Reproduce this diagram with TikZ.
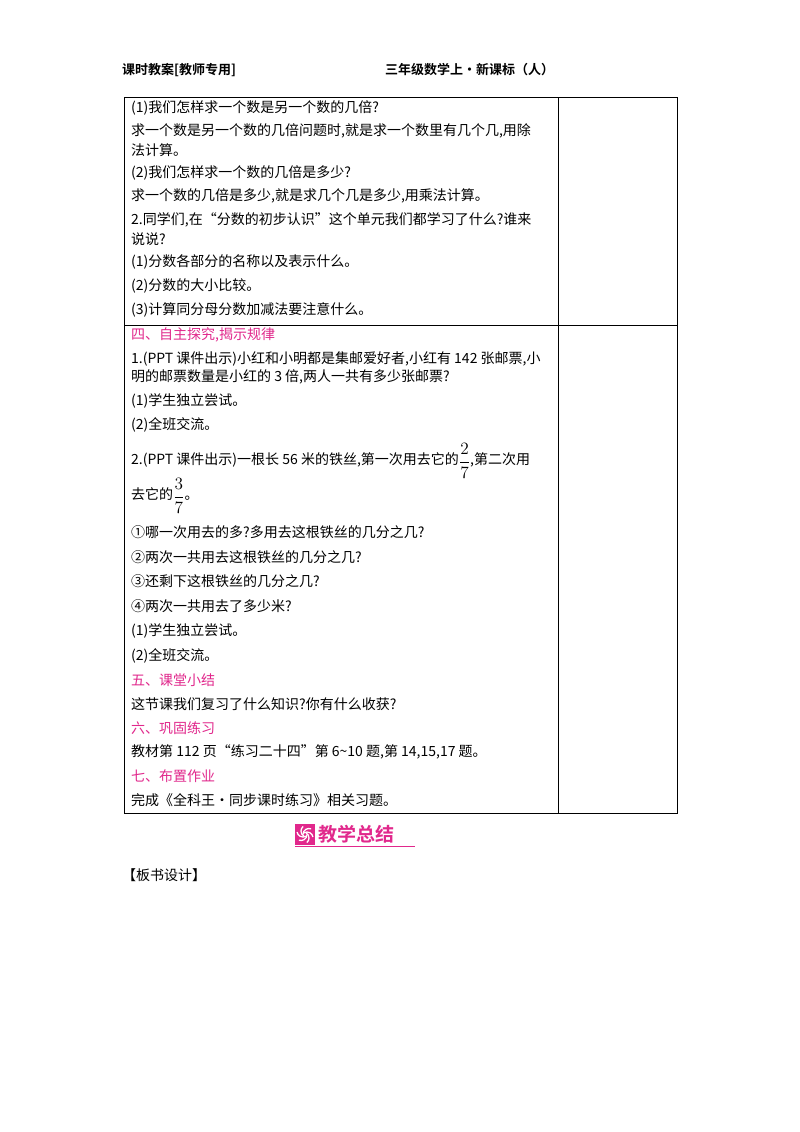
\documentclass[tikz,border=0pt]{standalone}
\usepackage{fontspec}
\usepackage{graphicx}
\setmainfont{Noto Sans CJK SC}
\newfontfamily\cjkb{Noto Sans CJK SC Bold}
\definecolor{pk}{RGB}{225,40,140}
\newcommand{\myfr}[2]{\raisebox{-0.3ex}{\scalebox{1.2}{$\displaystyle\frac{#1}{#2}$}}}
\begin{document}
\begin{tikzpicture}[x=1pt,y=-1pt,
  tx/.style={anchor=west,inner sep=0pt,font=\fontsize{14}{16}\selectfont},
  pt/.style={tx,text=pk}]
\useasboundingbox (0,0) rectangle (800,1132);
\fill[white] (0,0) rectangle (800,1132);
\node[tx,font=\cjkb\fontsize{13}{15}\selectfont] (h1) at (122,70) {课时教案[教师专用]};
\node[tx,font=\cjkb\fontsize{13}{15}\selectfont] (h2) at (385,70) {三年级数学上·新课标（人）};
\draw[line width=0.8pt] (124,97) rectangle (677,813);
\draw[line width=0.6pt] (558,97) -- (558,813) (124,325) -- (677,325);
\node[tx] (l1) at (131,108) {(1)我们怎样求一个数是另一个数的几倍?};
\node[tx] (l2) at (131,131) {求一个数是另一个数的几倍问题时,就是求一个数里有几个几,用除};
\node[tx] (l3) at (131,150) {法计算。};
\node[tx] (l4) at (131,173) {(2)我们怎样求一个数的几倍是多少?};
\node[tx] (l5) at (131,196) {求一个数的几倍是多少,就是求几个几是多少,用乘法计算。};
\node[tx] (l6) at (131,220) {2.同学们,在“分数的初步认识”这个单元我们都学习了什么?谁来};
\node[tx] (l7) at (131,239) {说说?};
\node[tx] (l8) at (131,262) {(1)分数各部分的名称以及表示什么。};
\node[tx] (l9) at (131,286) {(2)分数的大小比较。};
\node[tx] (l10) at (131,310) {(3)计算同分母分数加减法要注意什么。};
\node[pt] (m1) at (131,335) {四、自主探究,揭示规律};
\node[tx] (m2) at (131,359) {1.(PPT 课件出示)小红和小明都是集邮爱好者,小红有 142 张邮票,小};
\node[tx] (m3) at (131,377) {明的邮票数量是小红的 3 倍,两人一共有多少张邮票?};
\node[tx] (m4) at (131,401) {(1)学生独立尝试。};
\node[tx] (m5) at (131,425) {(2)全班交流。};
\node[tx] (m6) at (131,461) {2.(PPT 课件出示)一根长 56 米的铁丝,第一次用去它的\myfr{2}{7},第二次用};
\node[tx] (m7) at (131,496) {去它的\myfr{3}{7}。};
\node[tx] (m8) at (131,532) {①哪一次用去的多?多用去这根铁丝的几分之几?};
\node[tx] (m9) at (131,557) {②两次一共用去这根铁丝的几分之几?};
\node[tx] (m10) at (131,581) {③还剩下这根铁丝的几分之几?};
\node[tx] (m11) at (131,606) {④两次一共用去了多少米?};
\node[tx] (m12) at (131,631) {(1)学生独立尝试。};
\node[tx] (m13) at (131,656) {(2)全班交流。};
\node[pt] (m14) at (131,680) {五、课堂小结};
\node[tx] (m15) at (131,704) {这节课我们复习了什么知识?你有什么收获?};
\node[pt] (m16) at (131,728) {六、巩固练习};
\node[tx] (m17) at (131,752) {教材第 112 页“练习二十四”第 6\~{}10 题,第 14,15,17 题。};
\node[pt] (m18) at (131,776) {七、布置作业};
\node[tx] (m19) at (131,800) {完成《全科王·同步课时练习》相关习题。};
% logo
\fill[pk] (295,824) rectangle (315,845);
\foreach \a in {0,60,...,300}{
  \draw[white,line width=1.3pt,rotate around={\a:(305,834.5)}] (305,834.5) ++(2,0) arc (0:110:6);}
\node[anchor=west,inner sep=0pt,text=pk,font=\cjkb\fontsize{19}{21}\selectfont] (lg) at (318,834) {教学总结};
\draw[pk,line width=0.6pt] (295,846.5) -- (415,846.5);
\node[tx] (b) at (122,875) {【板书设计】};
\end{tikzpicture}
\end{document}
